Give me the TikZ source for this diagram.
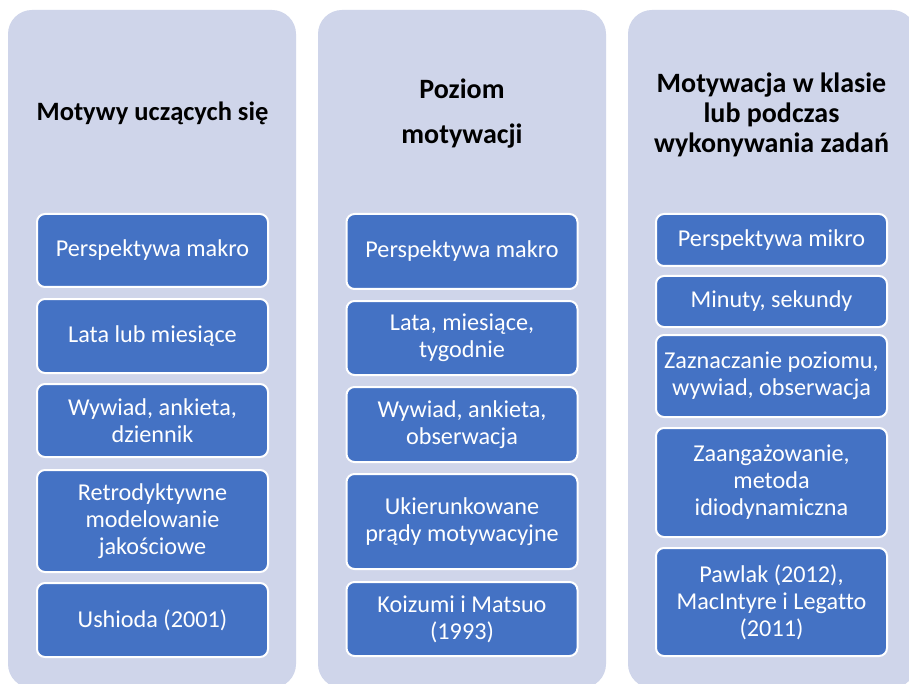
\documentclass[tikz,border=0pt]{standalone}
\usepackage{fontspec}
\setmainfont{Carlito}[Ligatures=NoCommon]
\definecolor{panel}{HTML}{CFD5EA}
\definecolor{boxblue}{HTML}{4472C4}
\begin{document}
\begin{tikzpicture}[x=1pt,y=-1pt,
  panelbox/.style={fill=panel,rounded corners=24pt},
  bx/.style={draw=white,line width=2pt,fill=boxblue,rounded corners=8pt,
    minimum width=231pt,inner sep=0pt,align=center,text=white,
    font=\fontsize{24.2}{27}\selectfont},
  hd/.style={align=center,text=black,inner sep=0pt}]
\useasboundingbox (0,0) rectangle (909,684);
\fill[white] (0,0) rectangle (909,684);
\begin{scope}
\clip (0,0) rectangle (909,684);
\fill[panelbox] (8,10) rectangle (296,688);
\fill[panelbox] (318,10) rectangle (606,688);
\fill[panelbox] (628,10) rectangle (916,688);

% headers
\node[hd,font=\fontsize{26.5}{30}\bfseries] (h1) at (152.5,113) {Motywy uczących się};
\node[hd,font=\fontsize{28}{45}\bfseries] (h2) at (462,114) {Poziom\\motywacji};
\node[hd,font=\fontsize{28}{30}\bfseries] (h3) at (771.5,114.5) {Motywacja w klasie\\lub podczas\\wykonywania zadań};

% column 1
\node[bx,minimum height=73pt] (a1) at (152.5,250.5) {Perspektywa makro};
\node[bx,minimum height=74pt] (a2) at (152.5,336) {Lata lub miesiące};
\node[bx,minimum height=73pt] (a3) at (152.5,420.5) {Wywiad, ankieta,\\dziennik};
\node[bx,minimum height=102pt] (a4) at (152.5,521) {Retrodyktywne\\modelowanie\\jakościowe};
\node[bx,minimum height=74pt] (a5) at (152.5,620) {Ushioda (2001)};

% column 2
\node[bx,minimum height=75pt] (b1) at (462,251.5) {Perspektywa makro};
\node[bx,minimum height=74pt] (b2) at (462,338) {Lata, miesiące,\\tygodnie};
\node[bx,minimum height=75pt] (b3) at (462,424.5) {Wywiad, ankieta,\\obserwacja};
\node[bx,minimum height=95pt] (b4) at (462,521.5) {Ukierunkowane\\prądy motywacyjne};
\node[bx,minimum height=74pt] (b5) at (462,619) {Koizumi i Matsuo\\(1993)};

% column 3
\node[bx,minimum height=52pt] (c1) at (771.5,240) {Perspektywa mikro};
\node[bx,minimum height=51pt] (c2) at (771.5,301.5) {Minuty, sekundy};
\node[bx,minimum height=82pt] (c3) at (771.5,376) {Zaznaczanie poziomu,\\wywiad, obserwacja};
\node[bx,minimum height=109pt] (c4) at (771.5,482.5) {Zaangażowanie,\\metoda\\idiodynamiczna};
\node[bx,minimum height=108pt] (c5) at (771.5,602) {Pawlak (2012),\\MacIntyre i Legatto\\(2011)};
\end{scope}
\end{tikzpicture}
\end{document}
